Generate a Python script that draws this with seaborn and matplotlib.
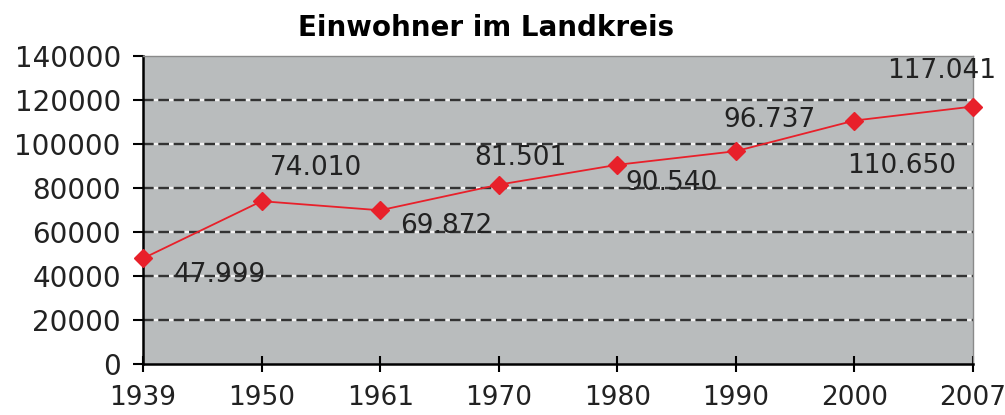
import matplotlib
matplotlib.use("Agg")
import matplotlib.pyplot as plt
import seaborn as sns
import pandas as pd

years = ["1939", "1950", "1961", "1970", "1980", "1990", "2000", "2007"]
population = [47999, 74010, 69872, 81501, 90540, 96737, 110650, 117041]
point_labels = ["47.999", "74.010", "69.872", "81.501", "90.540", "96.737", "110.650", "117.041"]
y_ticks = [0, 20000, 40000, 60000, 80000, 100000, 120000, 140000]
title = "Einwohner im Landkreis"

# label offsets in pixels (dx, dy) relative to the point
label_offsets = [(77, -14), (54, 36), (66, -13), (22, 30), (54, -15), (34, 34), (47, -42), (-31, 39)]

sns.set_style("white")
plt.rcParams["font.family"] = ["DejaVu Sans"]

df = pd.DataFrame({"Jahr": years, "Einwohner": population})

fig = plt.figure(figsize=(10.05, 4.15), dpi=100)
ax = fig.add_axes([143 / 1005, 1 - 364 / 415, (973 - 143) / 1005, (364 - 56) / 415])
ax.set_facecolor("#b9bcbd")

for yv in y_ticks[1:-1]:
    ax.axhline(yv, color="#333333", linewidth=1.7, linestyle=(0, (4.5, 2.0)),
               gapcolor="#f2f2f2", zorder=1)

sns.pointplot(data=df, x="Jahr", y="Einwohner", ax=ax, color="#e8202a",
              markers="D", markersize=9, linewidth=1.3, zorder=3)
for art in ax.lines + ax.collections:
    art.set_clip_on(False)

ax.set_xlim(0, len(years) - 1)
ax.set_ylim(0, 140000)
ax.set_yticks(y_ticks)
ax.set_yticklabels([str(v) for v in y_ticks])
ax.set_xlabel("")
ax.set_ylabel("")

for i, (lab, val) in enumerate(zip(point_labels, population)):
    dx, dy = label_offsets[i]
    ax.annotate(lab, (i, val), xytext=(dx * 0.72, dy * 0.72), textcoords="offset points",
                ha="center", va="center_baseline", fontsize=19, color="#222222", zorder=4,
                annotation_clip=False)

for side in ["left", "bottom"]:
    ax.spines[side].set_color("black")
    ax.spines[side].set_linewidth(1.8)
for side in ["top", "right"]:
    ax.spines[side].set_color("#8a8a8a")
    ax.spines[side].set_linewidth(1.0)

ax.tick_params(axis="y", direction="out", length=7, width=1.5, labelsize=20,
               colors="black", pad=9, left=True)
ax.tick_params(axis="x", direction="inout", length=12, width=1.5, labelsize=19,
               colors="black", pad=9, bottom=True)
for t in ax.get_xticklabels() + ax.get_yticklabels():
    t.set_color("#222222")

fig.text(486 / 1005, 1 - 28 / 415, title, ha="center", va="center",
         fontsize=20, fontweight="bold", color="black")

fig.savefig("out.png", dpi=100)
